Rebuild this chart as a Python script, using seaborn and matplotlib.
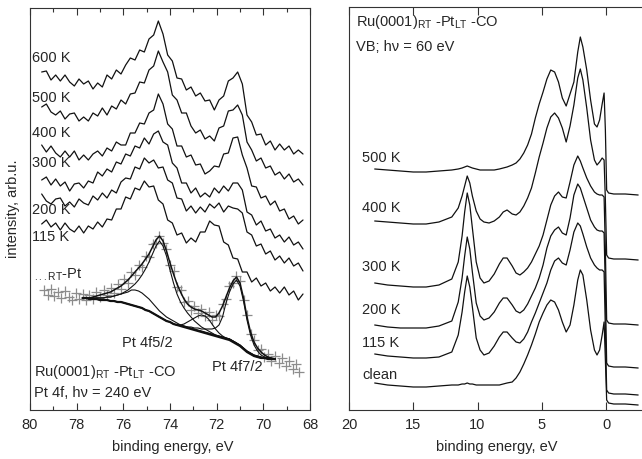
import matplotlib
matplotlib.use("Agg")
import matplotlib.pyplot as plt
from matplotlib.ticker import MultipleLocator
import seaborn as sns

# ---------------- Pt 4f core level spectra (left panel) ----------------
xps_energy = [79.5, 79.3, 79.1, 78.9, 78.7, 78.5, 78.3, 78.1, 77.9, 77.7, 77.5, 77.3, 77.1, 76.9,
              76.7, 76.5, 76.3, 76.1, 75.9, 75.7, 75.5, 75.3, 75.1, 74.9, 74.7, 74.5, 74.3, 74.1,
              73.9, 73.7, 73.5, 73.3, 73.1, 72.9, 72.7, 72.5, 72.3, 72.1, 71.9, 71.7, 71.5, 71.3,
              71.1, 70.9, 70.7, 70.5, 70.3, 70.1, 69.9, 69.7, 69.5, 69.3, 69.1, 68.9, 68.7, 68.5, 68.3]
xps_600K = [338, 339, 330, 335, 329, 335, 328, 324, 331, 326, 329, 321, 327, 323, 335, 331, 340, 336,
            345, 352, 350, 360, 358, 371, 375, 389, 376, 355, 349, 332, 331, 320, 323, 314, 317, 309,
            310, 300, 310, 314, 329, 332, 338, 326, 295, 288, 275, 276, 265, 269, 260, 266, 260, 264,
            256, 260, 256]
xps_500K = [303, 306, 298, 295, 299, 291, 296, 297, 289, 293, 289, 297, 294, 302, 295, 304, 301, 310,
            306, 316, 317, 328, 327, 340, 344, 359, 348, 338, 315, 310, 297, 297, 284, 277, 280, 271,
            274, 269, 282, 284, 299, 300, 305, 295, 268, 260, 249, 252, 242, 244, 235, 238, 231, 236,
            228, 231, 225]
xps_400K = [265, 258, 264, 257, 253, 259, 253, 259, 250, 255, 250, 256, 259, 254, 262, 259, 268, 265,
            265, 277, 277, 287, 286, 297, 300, 316, 306, 286, 281, 264, 264, 253, 255, 245, 246, 236,
            239, 244, 243, 256, 257, 272, 273, 255, 242, 224, 223, 212, 214, 205, 209, 199, 201, 191,
            194, 186, 190]
xps_300K = [230, 233, 225, 231, 224, 228, 219, 226, 227, 222, 229, 227, 238, 234, 241, 238, 248, 246,
            256, 254, 264, 262, 272, 266, 276, 279, 268, 265, 247, 242, 227, 227, 217, 222, 213, 217,
            213, 222, 217, 224, 219, 227, 227, 220, 198, 195, 185, 189, 179, 181, 172, 175, 168, 173,
            165, 168, 161]
xps_200K = [216, 209, 206, 211, 212, 204, 208, 203, 211, 207, 205, 214, 210, 217, 212, 220, 217, 228,
            232, 231, 243, 241, 252, 247, 250, 242, 243, 230, 227, 212, 211, 199, 204, 197, 203, 198,
            206, 202, 207, 198, 204, 202, 201, 197, 178, 175, 164, 166, 156, 159, 150, 154, 147, 152,
            144, 147, 139]
xps_115K = [186, 190, 183, 187, 180, 187, 181, 178, 184, 177, 184, 181, 188, 183, 191, 190, 201, 201,
            213, 211, 222, 220, 229, 223, 224, 210, 206, 190, 187, 175, 177, 167, 172, 168, 178, 178,
            189, 185, 184, 168, 165, 152, 151, 138, 138, 128, 132, 124, 127, 119, 123, 117, 123, 115,
            119, 110, 116]
xps_labels = ["600 K", "500 K", "400 K", "300 K", "200 K", "115 K"]

# RT-Pt reference: measured points and fit
pt_energy = [79.4, 79.25, 79.1, 78.95, 78.8, 78.65, 78.5, 78.35, 78.2, 78.05, 77.9, 77.75, 77.6, 77.45,
             77.3, 77.15, 77.0, 76.85, 76.7, 76.55, 76.4, 76.25, 76.1, 75.95, 75.8, 75.65, 75.5, 75.35,
             75.2, 75.05, 74.9, 74.75, 74.6, 74.45, 74.3, 74.15, 74.0, 73.85, 73.7, 73.55, 73.4, 73.25,
             73.1, 72.95, 72.8, 72.65, 72.5, 72.35, 72.2, 72.05, 71.9, 71.75, 71.6, 71.45, 71.3, 71.15,
             71.0, 70.85, 70.7, 70.55, 70.4, 70.25, 70.1, 69.95, 69.8, 69.65, 69.5, 69.35, 69.2, 69.05,
             68.9, 68.75, 68.6, 68.45]
pt_data = [120, 115, 121, 114, 118, 112, 119, 113, 110, 117, 111, 116, 110, 115, 111, 118, 113, 120,
           115, 122, 117, 126, 121, 131, 127, 138, 135, 145, 143, 154, 153, 166, 167, 174, 167, 161,
           145, 139, 123, 120, 108, 109, 100, 104, 97, 101, 94, 98, 90, 95, 94, 106, 111, 124, 127,
           134, 129, 110, 95, 76, 70, 60, 61, 53, 56, 49, 54, 47, 52, 44, 49, 41, 46, 38]
fit_energy = pt_energy[11:67]
fit_background = [112, 112, 111, 111, 111, 110, 110, 110, 109, 109, 108, 108, 107, 106, 105, 104, 103,
                  102, 100, 99, 97, 95, 93, 91, 89, 88, 86, 85, 84, 83, 82, 81, 80, 79, 78, 77, 76, 75,
                  74, 73, 72, 71, 70, 68, 66, 64, 61, 58, 56, 54, 53, 52, 52, 51, 51, 51]
fit_4f52 = [112, 112, 112, 112, 112, 112, 112, 113, 113, 114, 115, 116, 118, 120, 123, 126, 130, 135,
            141, 148, 156, 164, 169, 164, 154, 140, 127, 116, 108, 102, 97, 93, 89, 86, 83, 81, 79, 77,
            75, 74, 73, 72, 71, 69, 67, 65, 62, 59, 57, 55, 54, 53, 52, 52, 51, 51]
fit_4f52_shift = [112, 112, 112, 112, 112, 112, 112, 113, 113, 114, 115, 116, 117, 118, 120, 120, 119,
                  117, 114, 111, 107, 103, 99, 96, 93, 91, 89, 87, 85, 84, 83, 82, 81, 80, 79, 78, 77,
                  76, 75, 74, 73, 72, 71, 69, 67, 65, 62, 59, 57, 55, 54, 53, 52, 52, 51, 51]
fit_4f72_shift = [112, 112, 111, 111, 111, 110, 110, 110, 109, 109, 108, 108, 107, 106, 105, 104, 103,
                  102, 100, 99, 97, 95, 93, 91, 89, 88, 86, 85, 85, 86, 88, 90, 92, 94, 95, 94, 91, 86,
                  81, 77, 74, 72, 71, 69, 67, 64, 61, 58, 56, 54, 53, 52, 52, 51, 51, 51]
fit_4f72 = [112, 112, 111, 111, 111, 110, 110, 110, 109, 109, 108, 108, 107, 106, 105, 104, 103, 102,
            100, 99, 97, 95, 93, 91, 89, 88, 86, 85, 85, 84, 83, 83, 82, 82, 81, 81, 81, 81, 82, 85,
            93, 107, 118, 126, 130, 124, 109, 90, 75, 65, 59, 55, 53, 52, 51, 51]
fit_total = [112, 112, 112, 113, 114, 115, 116, 117, 118, 120, 122, 124, 127, 130, 134, 138, 142, 146,
             151, 156, 163, 170, 174, 169, 159, 147, 136, 126, 118, 111, 106, 103, 101, 100, 99, 97,
             95, 93, 93, 97, 104, 113, 122, 129, 133, 127, 112, 93, 78, 68, 62, 58, 55, 53, 52, 51]

# ---------------- valence band spectra (right panel) ----------------
vb_energy = [18, 17, 16, 15, 14, 13, 12, 11.5, 11.2, 11.0, 10.8, 10.6, 10.4, 10.1, 9.8, 9.5, 9.1, 8.7,
             8.3, 8.0, 7.7, 7.3, 7.0, 6.7, 6.4, 6.1, 5.8, 5.5, 5.2, 4.9, 4.6, 4.3, 4.0, 3.7, 3.4, 3.1,
             2.8, 2.5, 2.2, 2.0, 1.8, 1.5, 1.2, 0.9, 0.7, 0.5, 0.3, 0.15, 0.05, -0.05, -0.2, -0.6,
             -1.5, -2.5]
vb_500K = [241, 240, 239, 238, 238, 239, 240, 241, 242, 243, 244, 243, 242, 241, 240, 240, 240, 240,
           241, 242, 243, 245, 247, 251, 257, 265, 276, 292, 306, 318, 331, 340, 338, 328, 312, 304,
           316, 328, 358, 373, 363, 340, 310, 286, 283, 290, 306, 317, 280, 220, 217, 216, 216, 215]
vb_400K = [189, 188, 187, 186, 186, 188, 193, 202, 214, 224, 234, 227, 214, 199, 191, 188, 187, 189,
           193, 198, 200, 196, 195, 198, 204, 212, 222, 237, 253, 267, 282, 293, 297, 292, 282, 268,
           284, 305, 332, 341, 330, 302, 270, 250, 245, 248, 252, 250, 210, 155, 152, 151, 151, 150]
vb_300K = [127, 125, 124, 123, 123, 125, 131, 148, 174, 198, 217, 205, 182, 148, 132, 127, 129, 136,
           146, 152, 152, 144, 137, 135, 138, 142, 148, 156, 164, 175, 190, 205, 214, 218, 213, 212,
           228, 245, 254, 249, 242, 232, 224, 218, 216, 215, 215, 213, 160, 90, 87, 86, 86, 85]
vb_200K = [85, 83, 82, 82, 82, 84, 89, 108, 132, 154, 173, 161, 138, 107, 94, 90, 92, 98, 107, 112,
           112, 105, 99, 97, 100, 106, 114, 122, 132, 145, 162, 174, 180, 183, 177, 175, 192, 215,
           226, 222, 214, 202, 190, 183, 180, 179, 179, 177, 120, 47, 44, 43, 43, 42]
vb_115K = [56, 54, 53, 52, 52, 53, 58, 75, 98, 118, 134, 123, 103, 72, 60, 55, 57, 64, 73, 78, 78, 72,
           68, 67, 71, 78, 88, 97, 107, 117, 127, 140, 149, 152, 147, 145, 160, 178, 187, 184, 176,
           163, 152, 145, 142, 140, 140, 138, 80, 20, 17, 16, 16, 15]
vb_clean = [27, 25, 24, 23, 23, 24, 25, 25, 26, 26, 27, 26, 26, 25, 25, 25, 25, 25, 25, 26, 27, 28, 32,
            38, 46, 55, 65, 76, 88, 97, 105, 110, 108, 100, 88, 78, 85, 105, 130, 140, 135, 110, 80,
            60, 55, 60, 75, 88, 50, 10, 7, 6, 6, 5]
vb_labels = ["500 K", "400 K", "300 K", "200 K", "115 K", "clean"]

# ---------------- style ----------------
sns.set_style("ticks")
plt.rcParams["font.family"] = ["Liberation Sans", "DejaVu Sans"]
plt.rcParams["mathtext.fontset"] = "custom"
plt.rcParams["mathtext.rm"] = "Liberation Sans"
plt.rcParams["mathtext.it"] = "Liberation Sans:italic"
plt.rcParams["font.size"] = 10
LC = "#111111"
SC = "#333333"

fig = plt.figure(figsize=(6.42, 4.59), dpi=100)
axL = fig.add_axes([30 / 642, 49 / 459, 280 / 642, 402 / 459])
axR = fig.add_axes([349 / 642, 49 / 459, 293 / 642, 403 / 459])

# left panel spectra
for ys in [xps_600K, xps_500K, xps_400K, xps_300K, xps_200K, xps_115K]:
    sns.lineplot(x=xps_energy, y=ys, ax=axL, color=LC, lw=0.9, sort=False, estimator=None)

sns.scatterplot(x=pt_energy, y=pt_data, ax=axL, marker="+", s=45, color="#8c8c8c",
                linewidth=0.9, zorder=2)
for ys in [fit_4f52, fit_4f52_shift, fit_4f72_shift, fit_4f72]:
    sns.lineplot(x=fit_energy, y=ys, ax=axL, color=LC, lw=0.8, sort=False, estimator=None, zorder=3)
sns.lineplot(x=fit_energy, y=fit_background, ax=axL, color=LC, lw=1.6, sort=False, estimator=None, zorder=3)
sns.lineplot(x=fit_energy, y=fit_total, ax=axL, color=LC, lw=1.1, sort=False, estimator=None, zorder=4)

for lab, yv in zip(xps_labels, [352, 312, 277, 247, 200, 173]):
    axL.text(79.9, yv, lab, ha="left", va="center", fontsize=10.5)
axL.text(79.85, 135, r"$_{\mathrm{...RT}}$-Pt", ha="left", va="center", fontsize=10.5)
axL.text(76.05, 67, "Pt 4f5/2", ha="left", va="center", fontsize=10.5)
axL.text(72.2, 43, "Pt 4f7/2", ha="left", va="center", fontsize=10.5)
axL.text(79.83, 38, r"Ru(0001)$_{\mathrm{RT}}$ -Pt$_{\mathrm{LT}}$ -CO", ha="left", va="center", fontsize=10.5)
axL.text(79.83, 17, "Pt 4f, h\u03bd = 240 eV", ha="left", va="center", fontsize=10.5)

axL.set_xlim(80, 68)
axL.set_ylim(0, 402)
axL.xaxis.set_major_locator(MultipleLocator(2))
axL.xaxis.set_minor_locator(MultipleLocator(1))
axL.set_yticks([])
axL.tick_params(axis="x", which="both", direction="in", top=True, bottom=True,
                color=SC, width=0.8, labelsize=10.5, pad=6)
axL.tick_params(axis="x", which="major", length=5)
axL.tick_params(axis="x", which="minor", length=3)
axL.set_xlabel("binding energy, eV", fontsize=10.5)
axL.set_ylabel("intensity, arb.u.", fontsize=10.5)
axL.xaxis.set_label_coords(0.51, -0.074)
axL.yaxis.set_label_coords(-0.034, 0.5)
for s in axL.spines.values():
    s.set_color(SC)
    s.set_linewidth(0.8)

# right panel spectra
for ys in [vb_500K, vb_400K, vb_300K, vb_200K, vb_115K, vb_clean]:
    sns.lineplot(x=vb_energy, y=ys, ax=axR, color=LC, lw=0.9, sort=False, estimator=None)
for lab, yv in zip(vb_labels, [252, 202, 143, 100, 67, 35]):
    axR.text(18.97, yv, lab, ha="left", va="center", fontsize=10.5)
axR.text(19.44, 388, r"Ru(0001)$_{\mathrm{RT}}$ -Pt$_{\mathrm{LT}}$ -CO", ha="left", va="center", fontsize=10.5)
axR.text(19.44, 363, "VB; h\u03bd = 60 eV", ha="left", va="center", fontsize=10.5)

axR.set_xlim(20, -2.8)
axR.set_ylim(0, 403)
axR.set_xticks([20, 15, 10, 5, 0])
axR.set_yticks([])
axR.tick_params(axis="x", which="major", direction="in", top=True, bottom=True,
                color=SC, width=0.8, length=5.5, labelsize=10.5, pad=6)
axR.set_xlabel("binding energy, eV", fontsize=10.5)
axR.xaxis.set_label_coords(0.505, -0.074)
axR.set_ylabel("")
for s in axR.spines.values():
    s.set_color(SC)
    s.set_linewidth(0.8)
axR.spines["right"].set_visible(False)

fig.savefig("out.png", dpi=100)
